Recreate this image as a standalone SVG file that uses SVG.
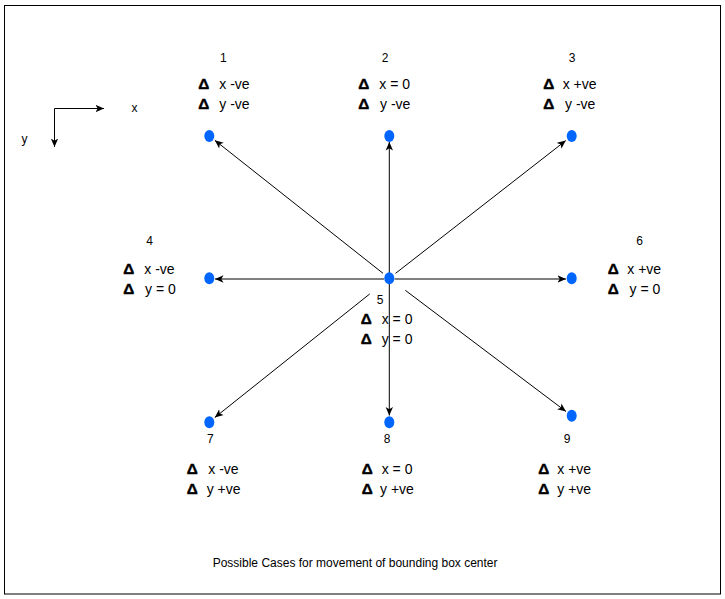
<svg xmlns="http://www.w3.org/2000/svg" width="725" height="599" viewBox="0 0 725 599">
<style>
text{font-family:"Liberation Sans",Arial,sans-serif;fill:#000}
.num{font-size:12px;text-anchor:middle}
.lbl{font-size:14px}
.d{font-size:14px;font-weight:bold;stroke:#000;stroke-width:0.4}
.dot{fill:#0066ff}
.ln{stroke:#000;stroke-width:1;fill:none;marker-end:url(#ah)}
</style>
<defs>
<marker id="ah" markerUnits="userSpaceOnUse" markerWidth="10" markerHeight="9" refX="8.5" refY="4.5" orient="auto">
<path d="M0,0.8 L8.5,4.5 L0,8.2 L2.2,4.5 Z" fill="#000"/>
</marker>
</defs>
<rect x="4.5" y="5.5" width="716" height="588.5" fill="#fff" stroke="#000" stroke-width="1"/>
<g id="axes">
<line class="ln" x1="54.5" y1="108.5" x2="104" y2="108.5"/>
<line class="ln" x1="54.5" y1="108.5" x2="54.5" y2="147"/>
<text x="131.5" y="112" style="font-size:12px">x</text>
<text x="21.5" y="143" style="font-size:12px">y</text>
</g>
<g id="connectors">
<line class="ln" x1="383" y1="273.3" x2="214.8" y2="140.3"/>
<line class="ln" x1="389.3" y1="278.3" x2="389.3" y2="142"/>
<line class="ln" x1="395.5" y1="273.4" x2="565.8" y2="140.6"/>
<line class="ln" x1="384" y1="279" x2="215" y2="279"/>
<line class="ln" x1="394.5" y1="279" x2="566" y2="279"/>
<line class="ln" x1="369.8" y1="293.9" x2="214.8" y2="417.5"/>
<line class="ln" x1="389.3" y1="278.3" x2="389.3" y2="415.5"/>
<line class="ln" x1="405.3" y1="290.3" x2="566" y2="411.5"/>
</g>
<g id="n1">
<ellipse class="dot" cx="209.3" cy="136" rx="5" ry="6"/>
<text class="num" x="223.3" y="62">1</text>
<text class="d" x="198.3" y="89" textLength="11" lengthAdjust="spacingAndGlyphs">Δ</text>
<text class="lbl" x="219.3" y="89">x -ve</text>
<text class="d" x="198.3" y="109" textLength="11" lengthAdjust="spacingAndGlyphs">Δ</text>
<text class="lbl" x="219.3" y="109">y -ve</text>
</g>
<g id="n2">
<ellipse class="dot" cx="389.3" cy="136" rx="5" ry="6"/>
<text class="num" x="385" y="62">2</text>
<text class="d" x="358.3" y="89" textLength="11" lengthAdjust="spacingAndGlyphs">Δ</text>
<text class="lbl" x="379.3" y="89">x = 0</text>
<text class="d" x="358.3" y="109" textLength="11" lengthAdjust="spacingAndGlyphs">Δ</text>
<text class="lbl" x="380" y="109">y -ve</text>
</g>
<g id="n3">
<ellipse class="dot" cx="571.7" cy="136" rx="5" ry="6"/>
<text class="num" x="572.2" y="62">3</text>
<text class="d" x="543.3" y="89" textLength="11" lengthAdjust="spacingAndGlyphs">Δ</text>
<text class="lbl" x="562.7" y="89">x +ve</text>
<text class="d" x="543.3" y="109" textLength="11" lengthAdjust="spacingAndGlyphs">Δ</text>
<text class="lbl" x="565" y="109">y -ve</text>
</g>
<g id="n4">
<ellipse class="dot" cx="209.3" cy="278.3" rx="5" ry="6"/>
<text class="num" x="149.5" y="245">4</text>
<text class="d" x="123.3" y="273.5" textLength="11" lengthAdjust="spacingAndGlyphs">Δ</text>
<text class="lbl" x="144.3" y="273.5">x -ve</text>
<text class="d" x="123.3" y="293.5" textLength="11" lengthAdjust="spacingAndGlyphs">Δ</text>
<text class="lbl" x="145" y="293.5">y = 0</text>
</g>
<g id="n5">
<ellipse class="dot" cx="389.3" cy="278.3" rx="5" ry="6"/>
<text class="num" x="380" y="304">5</text>
<text class="d" x="360.7" y="324" textLength="11" lengthAdjust="spacingAndGlyphs">Δ</text>
<text class="lbl" x="381.7" y="324">x = 0</text>
<text class="d" x="360.7" y="344" textLength="11" lengthAdjust="spacingAndGlyphs">Δ</text>
<text class="lbl" x="381.7" y="344">y = 0</text>
</g>
<g id="n6">
<ellipse class="dot" cx="571.7" cy="278.3" rx="5" ry="6"/>
<text class="num" x="639.5" y="245">6</text>
<text class="d" x="607.7" y="274" textLength="11" lengthAdjust="spacingAndGlyphs">Δ</text>
<text class="lbl" x="627.3" y="274">x +ve</text>
<text class="d" x="607.7" y="294" textLength="11" lengthAdjust="spacingAndGlyphs">Δ</text>
<text class="lbl" x="629.5" y="294">y = 0</text>
</g>
<g id="n7">
<ellipse class="dot" cx="209.3" cy="422.3" rx="5" ry="6"/>
<text class="num" x="210.3" y="443">7</text>
<text class="d" x="186.7" y="474" textLength="11" lengthAdjust="spacingAndGlyphs">Δ</text>
<text class="lbl" x="208.3" y="474">x -ve</text>
<text class="d" x="186.7" y="494" textLength="11" lengthAdjust="spacingAndGlyphs">Δ</text>
<text class="lbl" x="206.7" y="494">y +ve</text>
</g>
<g id="n8">
<ellipse class="dot" cx="389.3" cy="422.3" rx="5" ry="6"/>
<text class="num" x="387" y="443">8</text>
<text class="d" x="361.7" y="474" textLength="11" lengthAdjust="spacingAndGlyphs">Δ</text>
<text class="lbl" x="381.7" y="474">x = 0</text>
<text class="d" x="361.7" y="494" textLength="11" lengthAdjust="spacingAndGlyphs">Δ</text>
<text class="lbl" x="380" y="494">y +ve</text>
</g>
<g id="n9">
<ellipse class="dot" cx="571.7" cy="415.7" rx="5" ry="6"/>
<text class="num" x="567" y="443">9</text>
<text class="d" x="538.3" y="474" textLength="11" lengthAdjust="spacingAndGlyphs">Δ</text>
<text class="lbl" x="557.3" y="474">x +ve</text>
<text class="d" x="538.3" y="494" textLength="11" lengthAdjust="spacingAndGlyphs">Δ</text>
<text class="lbl" x="557.3" y="494">y +ve</text>
</g>
<g id="caption">
<text x="212.7" y="567" style="font-size:12px">Possible Cases for movement of bounding box center</text>
</g>
</svg>
